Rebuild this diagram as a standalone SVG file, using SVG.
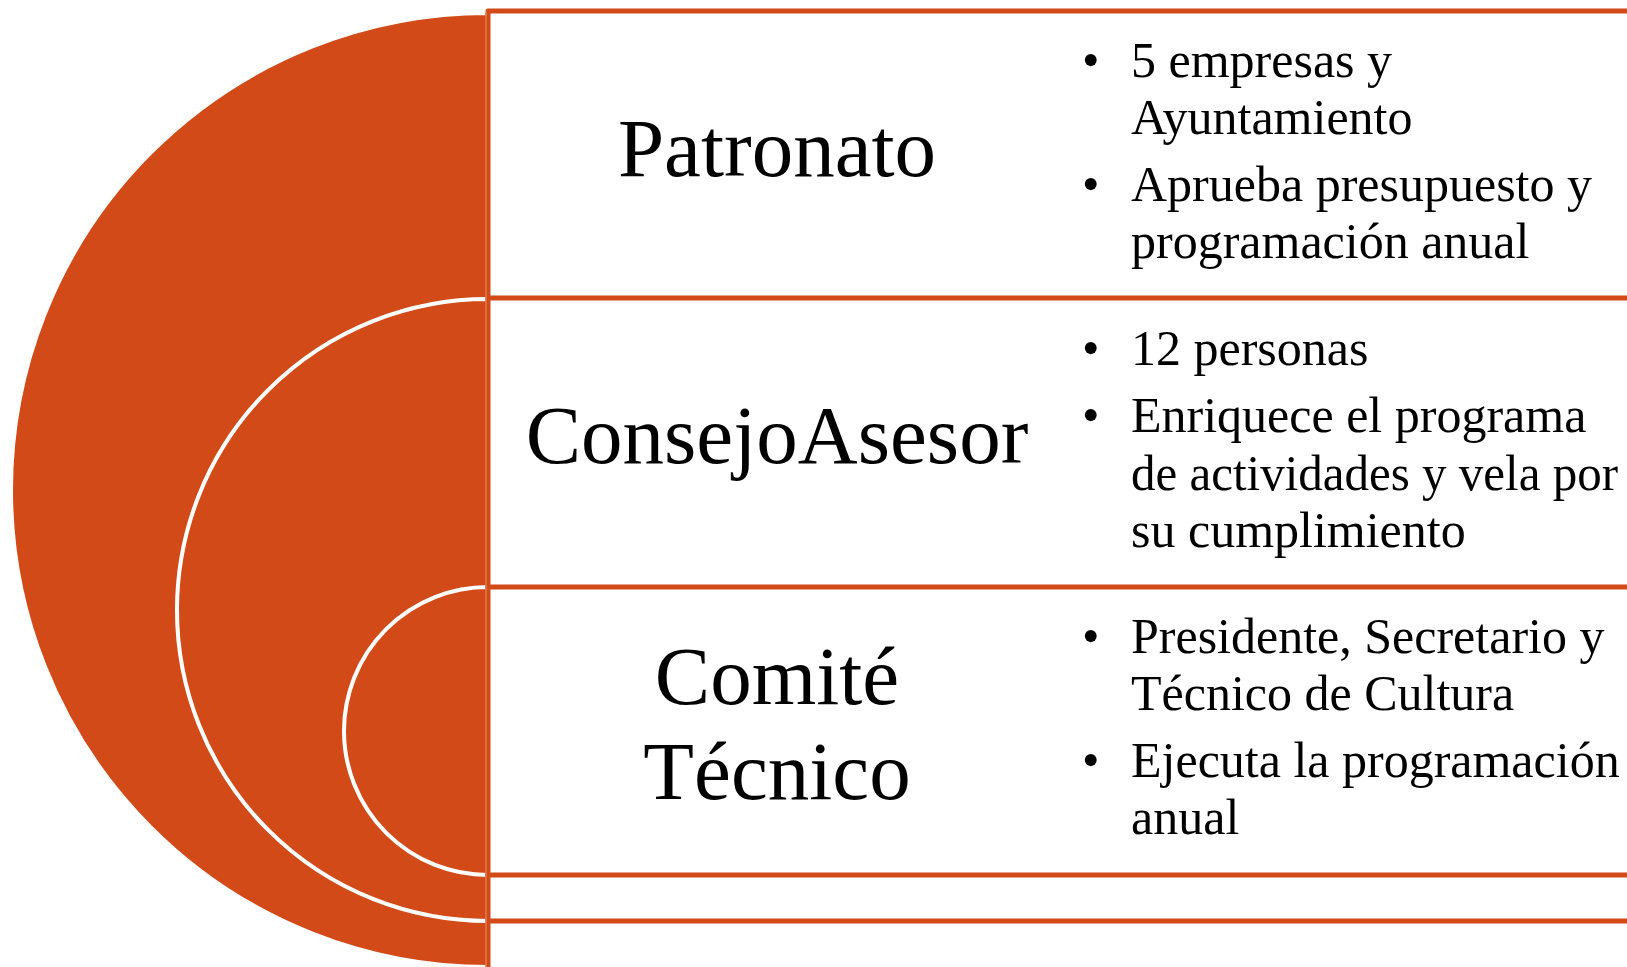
<svg xmlns="http://www.w3.org/2000/svg" width="1627" height="967" viewBox="0 0 1627 967">
<style>
.arc{fill:#D24A18;stroke:#FFFFFF;stroke-width:4}
.box{fill:#FFFFFF;stroke:#D24A18;stroke-width:5;stroke-linejoin:round}
.title{font-family:"Liberation Serif","Times New Roman",serif;font-size:83px;fill:#000;text-anchor:middle}
.item{font-family:"Liberation Serif","Times New Roman",serif;font-size:50px;fill:#000}
</style>
<rect width="1627" height="967" fill="#FFFFFF"/>
<g id="arcs">
<path class="arc" d="M488,13 A477,477 0 0 0 488,967 Z"/>
<path class="arc" d="M488,299 A311,311 0 0 0 488,921 Z"/>
<path class="arc" d="M488,587 A144,144 0 0 0 488,875 Z"/>
</g>
<g id="patronato">
<rect class="box" x="488" y="11" width="1200" height="1100"/>
<text class="title" x="777" y="176">Patronato</text>
<text class="item" x="1082" y="77">•</text>
<text class="item" x="1131" y="77">5 empresas y</text>
<text class="item" x="1131" y="134">Ayuntamiento</text>
<text class="item" x="1082" y="201">•</text>
<text class="item" x="1131" y="201">Aprueba presupuesto y</text>
<text class="item" x="1131" y="258">programación anual</text>
</g>
<g id="consejo-asesor">
<rect class="box" x="488" y="298" width="1200" height="623"/>
<text class="title" x="777" y="463">ConsejoAsesor</text>
<text class="item" x="1082" y="365">•</text>
<text class="item" x="1131" y="365">12 personas</text>
<text class="item" x="1082" y="432">•</text>
<text class="item" x="1131" y="432">Enriquece el programa</text>
<text class="item" x="1131" y="490" textLength="487" lengthAdjust="spacingAndGlyphs">de actividades y vela por</text>
<text class="item" x="1131" y="547">su cumplimiento</text>
</g>
<g id="comite-tecnico">
<rect class="box" x="488" y="587" width="1200" height="288"/>
<text class="title" x="777" y="704">Comité</text>
<text class="title" x="777" y="799">Técnico</text>
<text class="item" x="1082" y="653">•</text>
<text class="item" x="1131" y="653">Presidente, Secretario y</text>
<text class="item" x="1131" y="710">Técnico de Cultura</text>
<text class="item" x="1082" y="777">•</text>
<text class="item" x="1131" y="777">Ejecuta la programación</text>
<text class="item" x="1131" y="834">anual</text>
</g>
<line x1="486" y1="11" x2="486" y2="967" stroke="#E8906C" stroke-width="1"/>
</svg>
